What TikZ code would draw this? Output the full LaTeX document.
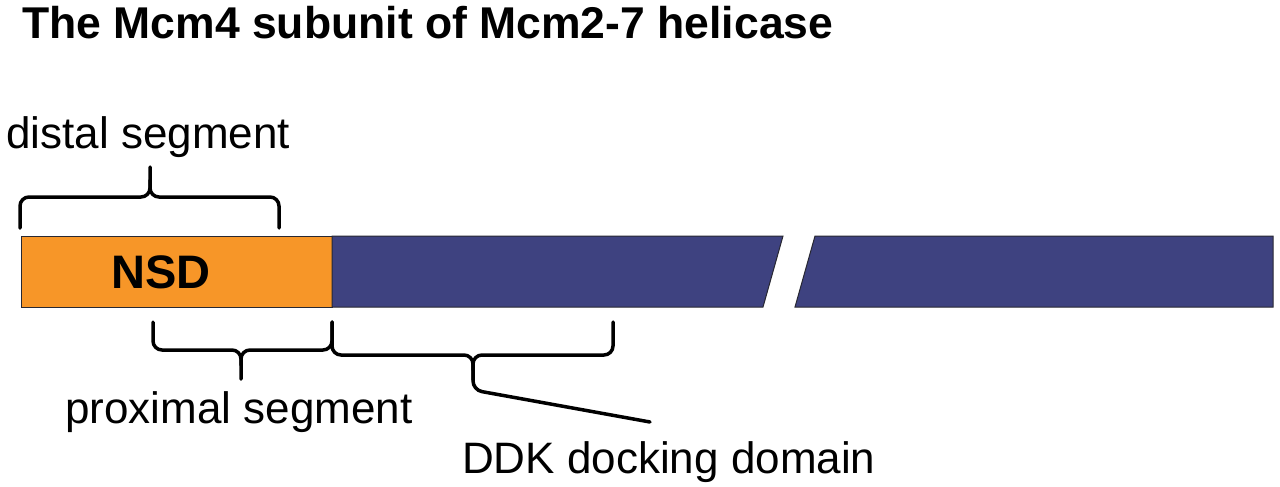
\documentclass[tikz,border=0pt]{standalone}
\usepackage{fontspec}
\setmainfont{Liberation Sans}
\definecolor{nsdorange}{RGB}{247,150,40}
\definecolor{barblue}{RGB}{62,66,128}
\definecolor{edge}{RGB}{40,40,50}
\tikzset{
  lbl/.style={anchor=base west,inner sep=0pt,font=\fontsize{44}{50}\selectfont},
  ttl/.style={anchor=base west,inner sep=0pt,font=\fontsize{44.5}{50}\selectfont\bfseries},
  nsdlbl/.style={anchor=base west,inner sep=0pt,font=\fontsize{47}{50}\selectfont\bfseries},
  brace/.style={draw=black,line width=3.5pt,rounded corners=9pt,line cap=round},
  seg/.style={draw=edge,line width=1pt},
}
\begin{document}
\begin{tikzpicture}[x=1pt,y=-1pt]
\useasboundingbox (0,0) rectangle (1280,487);
% bar
\path[seg,fill=nsdorange] (21,236) rectangle (332,307);
\path[seg,fill=barblue] (332,236) -- (783,236) -- (763,307) -- (332,307) -- cycle;
\path[seg,fill=barblue] (815,236) -- (1273,236) -- (1273,307) -- (795,307) -- cycle;
\node[nsdlbl] (nsd) at (111,288) {NSD};
% title
\node[ttl] (title) at (22,39) {The Mcm4 subunit of Mcm2-7 helicase};
% distal brace
\draw[brace] (20,228) -- (20,197) -- (150,197) -- (150,167);
\draw[brace] (150,180) -- (150,197) -- (279,197) -- (279,228);
\node[lbl] (distal) at (6,148) {distal segment};
% proximal brace
\draw[brace] (153,322) -- (153,350) -- (241,350) -- (241,379);
\draw[brace] (241,365) -- (241,350) -- (332,350) -- (332,322);
\node[lbl] (prox) at (65,423) {proximal segment};
% DDK brace
\draw[brace] (332,322) -- (332,355) -- (473,355) -- (473,380);
\draw[brace] (473,370) -- (473,355) -- (613,355) -- (613,322);
\coordinate (ddktip) at (473,390);
\coordinate (ddkend) at (650,422);
\draw[brace] (473,360) -- (ddktip) -- (ddkend);
\node[lbl] (ddk) at (462,473) {DDK docking domain};
\end{tikzpicture}
\end{document}
